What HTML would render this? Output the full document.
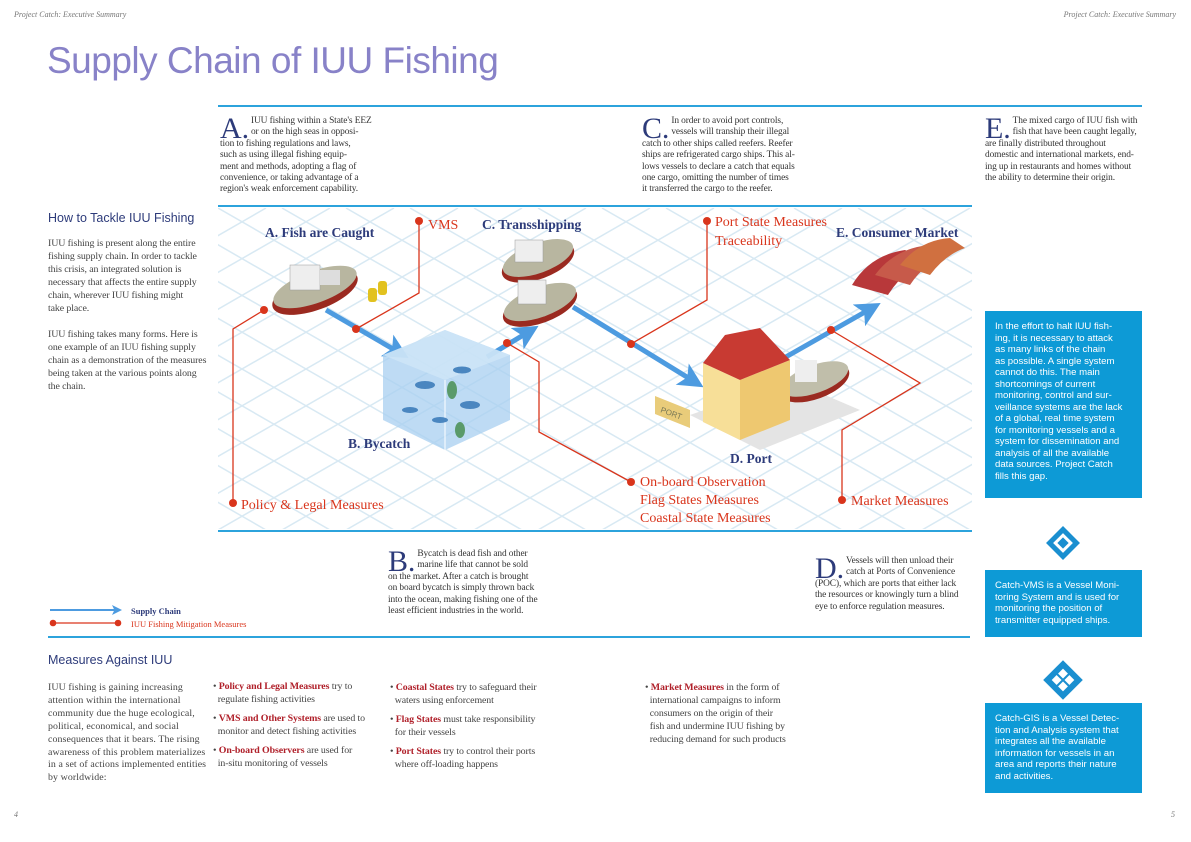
<!DOCTYPE html>
<html><head><meta charset="utf-8"><style>
*{margin:0;padding:0;box-sizing:border-box}
body{width:1191px;height:842px;background:#fff;position:relative;overflow:hidden;font-family:"Liberation Serif",serif;color:#333}
.a{position:absolute;white-space:nowrap}
.hdr{font-style:italic;font-size:8px;color:#777;top:10px}
.rule{position:absolute;height:2px;background:#2ca3dc}
.blk{font-size:9.4px;line-height:11.4px;letter-spacing:-0.1px;color:#333}
.cap{font-size:30px;line-height:26px;height:22px;color:#2d3b7a;float:left;margin-right:2px}
.sub{font-family:"Liberation Sans",sans-serif;font-size:12.5px;color:#2d3b7a}
.p{font-size:9.9px;line-height:12.9px;color:#444;letter-spacing:-0.1px}
.b{color:#b0202a;font-weight:bold}
.box{position:absolute;background:#0d9ad6;color:#fff;font-family:"Liberation Sans",sans-serif;font-size:9.6px;line-height:11.5px;padding:10px 10px}
</style></head><body>
<div class="a hdr" style="left:14px">Project Catch: Executive Summary</div>
<div class="a hdr" style="right:15px">Project Catch: Executive Summary</div>
<div class="a" style="left:47px;top:40px;font-family:'Liberation Sans',sans-serif;font-size:37px;font-weight:300;color:#8882c8;letter-spacing:-0.5px">Supply Chain of IUU Fishing</div>

<div class="rule" style="left:218px;top:105px;width:924px"></div>
<div class="rule" style="left:218px;top:205px;width:754px"></div>
<div class="rule" style="left:218px;top:530px;width:754px"></div>
<div class="rule" style="left:48px;top:636px;width:922px"></div>

<div class="a blk" style="left:220px;top:116px;width:160px"><span class="cap">A.</span>IUU fishing within a State's EEZ<br>or on the high seas in opposi-<br>tion to fishing regulations and laws,<br>such as using illegal fishing equip-<br>ment and methods, adopting a flag of<br>convenience, or taking advantage of a<br>region's weak enforcement capability.</div>
<div class="a blk" style="left:642px;top:116px;width:160px"><span class="cap">C.</span>In order to avoid port controls,<br>vessels will tranship their illegal<br>catch to other ships called reefers. Reefer<br>ships are refrigerated cargo ships. This al-<br>lows vessels to declare a catch that equals<br>one cargo, omitting the number of times<br>it transferred the cargo to the reefer.</div>
<div class="a blk" style="left:985px;top:116px;width:160px"><span class="cap">E.</span>The mixed cargo of IUU fish with<br>fish that have been caught legally,<br>are finally distributed throughout<br>domestic and international markets, end-<br>ing up in restaurants and homes without<br>the ability to determine their origin.</div>
<div class="a blk" style="left:388px;top:549px"><span class="cap">B.</span>Bycatch is dead fish and other<br>marine life that cannot be sold<br>on the market. After a catch is brought<br>on board bycatch is simply thrown back<br>into the ocean, making fishing one of the<br>least efficient industries in the world.</div>
<div class="a blk" style="left:815px;top:556px"><span class="cap">D.</span>Vessels will then unload their<br>catch at Ports of Convenience<br>(POC), which are ports that either lack<br>the resources or knowingly turn a blind<br>eye to enforce regulation measures.</div>

<div class="a sub" style="left:48px;top:211px">How to Tackle IUU Fishing</div>
<div class="a p" style="left:48px;top:238px">IUU fishing is present along the entire<br>fishing supply chain. In order to tackle<br>this crisis, an integrated solution is<br>necessary that affects the entire supply<br>chain, wherever IUU fishing might<br>take place.</div>
<div class="a p" style="left:48px;top:329px">IUU fishing takes many forms. Here is<br>one example of an IUU fishing supply<br>chain as a demonstration of the measures<br>being taken at the various points along<br>the chain.</div>

<svg class="a" style="left:0;top:0" width="1191" height="842">
<defs>
<clipPath id="gc"><rect x="218" y="208" width="754" height="321"/></clipPath>
<marker id="ah" markerWidth="5" markerHeight="5" refX="3" refY="2.5" orient="auto"><path d="M0,0L5,2.5L0,5L1.2,2.5Z" fill="#4d9be0"/></marker>
</defs>
<g id="grid" clip-path="url(#gc)" stroke="#d8e9f3" stroke-width="1.5"></g>
<g stroke="#4d9be0" stroke-width="5" fill="none" marker-end="url(#ah)">
<line x1="326" y1="310" x2="400" y2="353"/>
<line x1="487" y1="357" x2="530" y2="331"/>
<line x1="573" y1="307" x2="695" y2="382"/>
<line x1="784" y1="358" x2="872" y2="308"/>
</g>
<g>
<polygon points="383,355 445,330 510,355 510,420 445,450 383,420" fill="#a8cff0" opacity="0.75"/>
<polygon points="383,355 445,380 510,355 445,330" fill="#cfe6f8" opacity="0.8"/>
<line x1="445" y1="380" x2="445" y2="450" stroke="#fff" stroke-width="1"/>
<g fill="#4a86c0"><ellipse cx="425" cy="385" rx="10" ry="4"/><ellipse cx="462" cy="370" rx="9" ry="3.5"/><ellipse cx="410" cy="410" rx="8" ry="3"/><ellipse cx="470" cy="405" rx="10" ry="4"/><ellipse cx="440" cy="420" rx="8" ry="3"/></g>
<ellipse cx="452" cy="390" rx="5" ry="9" fill="#5a9a6a"/><ellipse cx="460" cy="430" rx="5" ry="8" fill="#5a9a6a"/>
</g>
<g>
<ellipse cx="315" cy="292" rx="45" ry="18" transform="rotate(-20 315 292)" fill="#9a2a20"/>
<ellipse cx="315" cy="287" rx="44" ry="16" transform="rotate(-20 315 287)" fill="#b8b6a0"/>
<rect x="290" y="265" width="30" height="25" fill="#eee" stroke="#999" stroke-width="0.5"/>
<rect x="320" y="270" width="20" height="15" fill="#ddd"/>
<rect x="368" y="288" width="9" height="14" rx="3" fill="#e2c220"/><rect x="378" y="281" width="9" height="14" rx="3" fill="#e2c220"/>
</g>
<g>
<ellipse cx="538" cy="262" rx="38" ry="17" transform="rotate(-20 538 262)" fill="#9a2a20"/>
<ellipse cx="538" cy="258" rx="37" ry="15" transform="rotate(-20 538 258)" fill="#b8b6a0"/>
<rect x="515" y="240" width="28" height="22" fill="#eee" stroke="#999" stroke-width="0.5"/>
<ellipse cx="540" cy="306" rx="39" ry="17" transform="rotate(-20 540 306)" fill="#9a2a20"/>
<ellipse cx="540" cy="302" rx="38" ry="15" transform="rotate(-20 540 302)" fill="#b8b6a0"/>
<rect x="518" y="280" width="28" height="24" fill="#eee" stroke="#999" stroke-width="0.5"/>
</g>
<g>
<polygon points="690,415 760,450 860,410 790,380" fill="#e4e4e4"/>
<ellipse cx="815" cy="383" rx="36" ry="16" transform="rotate(-20 815 383)" fill="#9a2a20"/>
<ellipse cx="815" cy="379" rx="35" ry="14" transform="rotate(-20 815 379)" fill="#c0beaa"/>
<rect x="795" y="360" width="22" height="22" fill="#eee"/>
<polygon points="703,363 740,380 740,440 703,422" fill="#f7df98"/>
<polygon points="740,380 790,360 790,420 740,440" fill="#eec870"/>
<polygon points="703,363 740,380 790,360 760,328 725,335" fill="#c83a32"/>
<polygon points="655,396 690,410 690,428 655,414" fill="#e9cc7a"/>
<text x="660" y="412" font-size="8" fill="#775" font-family="Liberation Sans" transform="rotate(20 660 412)">PORT</text>
</g>
<g>
<path d="M852,285 Q870,255 905,250 L930,262 Q905,268 888,295 Z" fill="#b8383a"/>
<path d="M875,275 Q895,248 930,245 L950,255 Q925,262 910,285 Z" fill="#c75a4a"/>
<path d="M900,265 Q920,240 950,238 L965,248 Q945,255 930,275 Z" fill="#d07040"/>
</g>
<g stroke="#d9351c" stroke-width="1.3" fill="none">
<polyline points="233,502 233,329 264,310"/>
<polyline points="419,220 419,293 356,329"/>
<polyline points="507,343 539,362 539,432 631,482"/>
<polyline points="707,220 707,300 631,344"/>
<polyline points="831,330 920,383 842,430 842,500"/>
</g>
<g fill="#d9351c">
<circle cx="233" cy="503" r="4"/><circle cx="264" cy="310" r="4"/>
<circle cx="419" cy="221" r="4"/><circle cx="356" cy="329" r="4"/>
<circle cx="507" cy="343" r="4"/><circle cx="631" cy="482" r="4"/>
<circle cx="707" cy="221" r="4"/><circle cx="631" cy="344" r="4"/>
<circle cx="831" cy="330" r="4"/><circle cx="842" cy="500" r="4"/>
</g>
<g font-family="Liberation Serif" font-size="13.5" fill="#2d3b7a" font-weight="bold">
<text x="265" y="237">A. Fish are Caught</text>
<text x="482" y="229">C. Transshipping</text>
<text x="836" y="237">E. Consumer Market</text>
<text x="348" y="448">B. Bycatch</text>
<text x="730" y="463">D. Port</text>
</g>
<g font-family="Liberation Serif" font-size="14" fill="#d9351c">
<text x="428" y="229">VMS</text>
<text x="715" y="226">Port State Measures</text>
<text x="715" y="245">Traceability</text>
<text x="640" y="486">On-board Observation</text>
<text x="640" y="504">Flag States Measures</text>
<text x="640" y="522">Coastal State Measures</text>
<text x="241" y="509">Policy &amp; Legal Measures</text>
<text x="851" y="505">Market Measures</text>
</g>
<g>
<line x1="50" y1="610" x2="118" y2="610" stroke="#4d9be0" stroke-width="2" marker-end="url(#ah)"/>
<text x="131" y="614" font-size="8.5" font-family="Liberation Serif" fill="#2d3b7a" font-weight="bold">Supply Chain</text>
<line x1="53" y1="623" x2="118" y2="623" stroke="#d9351c" stroke-width="1.3"/>
<circle cx="53" cy="623" r="3.3" fill="#d9351c"/><circle cx="118" cy="623" r="3.3" fill="#d9351c"/>
<text x="131" y="627" font-size="8.5" font-family="Liberation Serif" fill="#d9351c">IUU Fishing Mitigation Measures</text>
</g>
<g fill="#1a8fd0">
<rect x="1051" y="531" width="24" height="24" transform="rotate(45 1063 543)"/>
<rect x="1056" y="536" width="14" height="14" fill="#fff" transform="rotate(45 1063 543)"/>
<rect x="1059" y="539" width="8" height="8" transform="rotate(45 1063 543)"/>
</g>
<g fill="#1a8fd0">
<rect x="1049" y="666" width="28" height="28" transform="rotate(45 1063 680)"/>
<rect x="1055" y="672" width="16" height="16" fill="#fff" transform="rotate(45 1063 680)"/>
<path d="M1057,674 L1069,686 M1069,674 L1057,686" stroke="#1a8fd0" stroke-width="2"/>
</g>
</svg>

<div class="box" style="left:985px;top:311px;width:157px;height:187px">In the effort to halt IUU fish-<br>ing, it is necessary to attack<br>as many links of the chain<br>as possible. A single system<br>cannot do this. The main<br>shortcomings of current<br>monitoring, control and sur-<br>veillance systems are the lack<br>of a global, real time system<br>for monitoring vessels and a<br>system for dissemination and<br>analysis of all the available<br>data sources. Project Catch<br>fills this gap.</div>
<div class="box" style="left:985px;top:570px;width:157px;height:67px">Catch-VMS is a Vessel Moni-<br>toring System and is used for<br>monitoring the position of<br>transmitter equipped ships.</div>
<div class="box" style="left:985px;top:703px;width:157px;height:90px">Catch-GIS is a Vessel Detec-<br>tion and Analysis system that<br>integrates all the available<br>information for vessels in an<br>area and reports their nature<br>and activities.</div>

<div class="a sub" style="left:48px;top:653px">Measures Against IUU</div>
<div class="a p" style="left:48px;top:682px;letter-spacing:0.1px">IUU fishing is gaining increasing<br>attention within the international<br>community due the huge ecological,<br>political, economical, and social<br>consequences that it bears. The rising<br>awareness of this problem materializes<br>in a set of actions implemented entities<br>by worldwide:</div>
<div class="a p" style="left:213px;top:681px">• <span class="b">Policy and Legal Measures</span> try to<br>&nbsp;&nbsp;regulate fishing activities<br><div style="height:6px"></div>• <span class="b">VMS and Other Systems</span> are used to<br>&nbsp;&nbsp;monitor and detect fishing activities<br><div style="height:6px"></div>• <span class="b">On-board Observers</span> are used for<br>&nbsp;&nbsp;in-situ monitoring of vessels</div>
<div class="a p" style="left:390px;top:682px">• <span class="b">Coastal States</span> try to safeguard their<br>&nbsp;&nbsp;waters using enforcement<br><div style="height:6px"></div>• <span class="b">Flag States</span> must take responsibility<br>&nbsp;&nbsp;for their vessels<br><div style="height:6px"></div>• <span class="b">Port States</span> try to control their ports<br>&nbsp;&nbsp;where off-loading happens</div>
<div class="a p" style="left:645px;top:682px">• <span class="b">Market Measures</span> in the form of<br>&nbsp;&nbsp;international campaigns to inform<br>&nbsp;&nbsp;consumers on the origin of their<br>&nbsp;&nbsp;fish and undermine IUU fishing by<br>&nbsp;&nbsp;reducing demand for such products</div>

<div class="a hdr" style="left:14px;top:810px">4</div>
<div class="a hdr" style="left:1171px;top:810px">5</div>

<script>
var g=document.getElementById('grid');var ns='http://www.w3.org/2000/svg';
for(var k=-30;k<30;k++){
 var x0=218+k*64;
 var l1=document.createElementNS(ns,'line');
 l1.setAttribute('x1',x0);l1.setAttribute('y1',208);l1.setAttribute('x2',x0+560);l1.setAttribute('y2',530);
 
 
 g.appendChild(l1);
 var l2=document.createElementNS(ns,'line');
 l2.setAttribute('x1',x0);l2.setAttribute('y1',530);l2.setAttribute('x2',x0+560);l2.setAttribute('y2',208);
 
 
 g.appendChild(l2);
}
</script>
</body></html>
